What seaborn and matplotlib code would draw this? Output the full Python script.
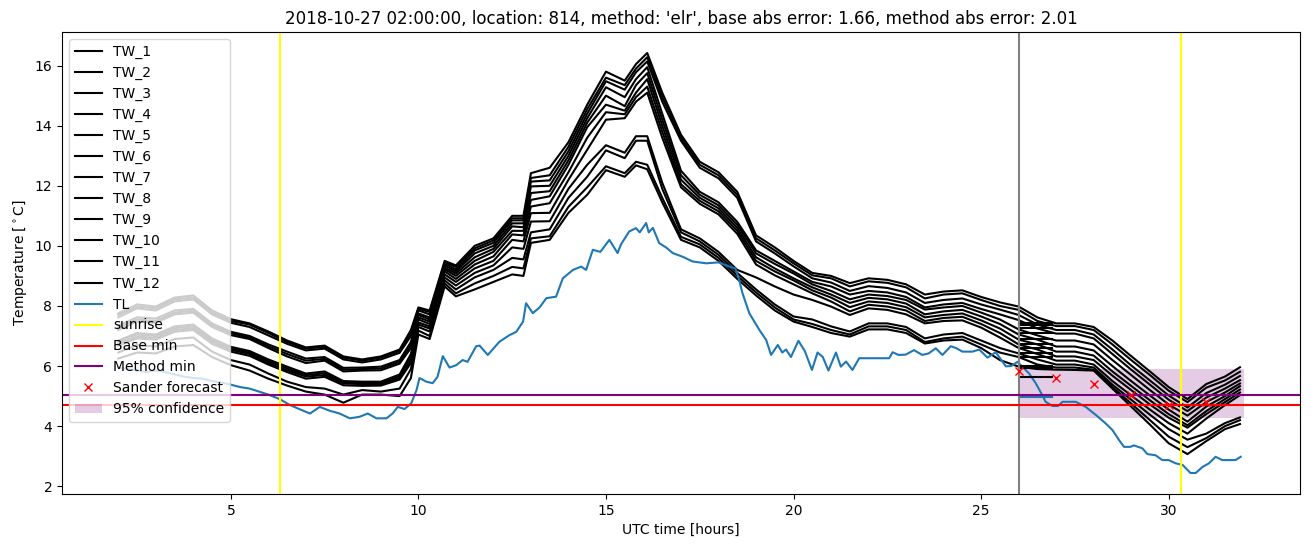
import matplotlib
matplotlib.use("Agg")
import matplotlib.pyplot as plt
import seaborn as sns

title = "2018-10-27 02:00:00, location: 814, method: 'elr', base abs error: 1.66, method abs error: 2.01"

tw_hours = [2.0, 2.5, 3.0, 3.5, 4.0, 4.5, 5.0, 5.5, 6.0, 6.5, 7.0, 7.5, 8.0, 8.5, 9.0, 9.5,
            9.8, 10.0, 10.3, 10.7, 11.0, 11.5, 12.0, 12.5, 12.8, 13.0, 13.5, 14.0, 14.5, 15.0,
            15.5, 15.8, 16.1, 16.5, 17.0, 17.5, 18.0, 18.5, 19.0, 19.5, 20.0, 20.5, 21.0, 21.5,
            22.0, 22.5, 23.0, 23.5, 24.0, 24.5, 25.0, 25.5, 26.0, 26.5, 27.0, 27.5, 28.0, 28.5,
            29.0, 29.5, 30.0, 30.5, 31.0, 31.5, 31.9]

tw_1 = [7.75, 8.05, 7.98, 8.28, 8.35, 7.85, 7.56, 7.42, 7.15, 6.85, 6.62, 6.68, 6.32, 6.22, 6.32, 6.55,
        7.20, 7.95, 7.85, 9.50, 9.35, 10.00, 10.25, 11.00, 11.00, 12.42, 12.60, 13.45, 14.70, 15.80,
        15.50, 16.05, 16.42, 15.10, 13.70, 12.80, 12.45, 11.80, 10.35, 9.95, 9.50, 9.10, 9.00, 8.76,
        8.92, 8.87, 8.72, 8.38, 8.48, 8.52, 8.30, 8.12, 7.98, 7.62, 7.42, 7.42, 7.30, 6.85,
        6.33, 5.82, 5.30, 4.90, 5.40, 5.65, 5.96]
tw_2 = [7.70, 7.98, 7.92, 8.22, 8.28, 7.78, 7.50, 7.38, 7.10, 6.80, 6.58, 6.64, 6.28, 6.18, 6.28, 6.50,
        7.10, 7.90, 7.80, 9.45, 9.30, 9.92, 10.18, 10.92, 10.92, 12.26, 12.35, 13.30, 14.55, 15.60,
        15.35, 15.90, 16.28, 14.95, 13.60, 12.70, 12.35, 11.70, 10.25, 9.85, 9.42, 9.02, 8.92, 8.65,
        8.82, 8.77, 8.62, 8.25, 8.38, 8.42, 8.20, 8.00, 7.87, 7.50, 7.33, 7.33, 7.20, 6.72,
        6.20, 5.70, 5.18, 4.80, 5.28, 5.52, 5.81]
tw_3 = [7.62, 7.92, 7.85, 8.15, 8.22, 7.72, 7.44, 7.30, 7.02, 6.74, 6.52, 6.58, 6.22, 6.12, 6.22, 6.44,
        7.00, 7.85, 7.72, 9.40, 9.22, 9.85, 10.10, 10.85, 10.85, 12.14, 12.18, 13.15, 14.40, 15.48,
        15.20, 15.78, 16.14, 14.80, 13.50, 12.60, 12.25, 11.60, 10.15, 9.75, 9.32, 8.92, 8.78, 8.50,
        8.66, 8.60, 8.45, 8.10, 8.20, 8.25, 8.05, 7.88, 7.70, 7.38, 7.20, 7.20, 7.05, 6.55,
        6.02, 5.52, 5.02, 4.62, 5.10, 5.38, 5.67]
tw_4 = [7.35, 7.62, 7.58, 7.85, 7.90, 7.42, 7.14, 7.00, 6.72, 6.48, 6.25, 6.30, 5.94, 5.95, 5.98, 6.20,
        6.80, 7.75, 7.62, 9.35, 9.15, 9.75, 10.00, 10.75, 10.75, 11.98, 12.00, 13.00, 14.25, 15.28,
        14.95, 15.55, 15.95, 14.40, 12.50, 11.80, 11.45, 10.80, 9.85, 9.50, 9.15, 8.80, 8.65, 8.38,
        8.50, 8.45, 8.30, 7.95, 8.05, 8.10, 7.90, 7.72, 7.53, 7.25, 7.08, 7.08, 6.92, 6.40,
        5.88, 5.38, 4.88, 4.50, 4.95, 5.25, 5.53]
tw_5 = [7.28, 7.55, 7.50, 7.78, 7.84, 7.36, 7.09, 6.95, 6.66, 6.40, 6.18, 6.24, 5.88, 5.90, 5.92, 6.14,
        6.70, 7.70, 7.55, 9.28, 9.08, 9.62, 9.90, 10.65, 10.62, 11.76, 11.82, 12.85, 14.10, 15.00,
        14.65, 15.35, 15.75, 14.20, 12.35, 11.70, 11.35, 10.70, 9.75, 9.40, 9.08, 8.72, 8.50, 8.22,
        8.38, 8.33, 8.20, 7.88, 7.95, 8.00, 7.78, 7.55, 7.22, 7.02, 6.85, 6.85, 6.72, 6.20,
        5.70, 5.20, 4.72, 4.35, 4.80, 5.12, 5.42]
tw_6 = [7.20, 7.48, 7.44, 7.72, 7.78, 7.30, 7.03, 6.90, 6.60, 6.32, 6.10, 6.18, 5.82, 5.85, 5.86, 6.08,
        6.60, 7.62, 7.48, 9.22, 9.00, 9.50, 9.80, 10.50, 10.50, 11.53, 11.65, 12.70, 13.95, 14.70,
        14.50, 15.10, 15.55, 14.00, 12.20, 11.60, 11.25, 10.60, 9.62, 9.25, 8.92, 8.62, 8.38, 8.10,
        8.27, 8.22, 8.08, 7.72, 7.82, 7.87, 7.65, 7.40, 7.05, 6.88, 6.65, 6.65, 6.52, 6.00,
        5.50, 5.02, 4.55, 4.15, 4.65, 5.00, 5.33]
tw_7 = [6.85, 7.10, 7.05, 7.32, 7.38, 6.92, 6.64, 6.50, 6.22, 5.98, 5.75, 5.82, 5.50, 5.48, 5.48, 5.72,
        6.40, 7.55, 7.40, 9.15, 8.90, 9.38, 9.65, 10.38, 10.35, 11.31, 11.42, 12.45, 13.60, 14.45,
        14.38, 14.95, 15.30, 13.80, 12.05, 11.50, 11.15, 10.50, 9.50, 9.15, 8.85, 8.52, 8.28, 7.96,
        8.15, 8.10, 7.96, 7.62, 7.70, 7.75, 7.52, 7.25, 6.88, 6.72, 6.48, 6.48, 6.35, 5.82,
        5.34, 4.86, 4.40, 4.03, 4.50, 4.90, 5.22]
tw_8 = [6.80, 7.05, 7.00, 7.26, 7.32, 6.86, 6.59, 6.45, 6.16, 5.92, 5.70, 5.76, 5.46, 5.44, 5.44, 5.66,
        6.30, 7.45, 7.32, 9.05, 8.80, 9.25, 9.50, 10.20, 10.15, 11.09, 11.10, 12.20, 13.20, 14.20,
        14.25, 14.80, 15.10, 13.60, 11.95, 11.40, 11.05, 10.40, 9.38, 9.02, 8.72, 8.42, 8.15, 7.82,
        8.04, 7.98, 7.85, 7.50, 7.60, 7.64, 7.40, 7.10, 6.72, 6.55, 6.32, 6.32, 6.20, 5.68,
        5.20, 4.72, 4.28, 3.95, 4.40, 4.80, 5.12]
tw_9 = [6.74, 6.98, 6.94, 7.20, 7.26, 6.80, 6.54, 6.40, 6.10, 5.86, 5.65, 5.70, 5.42, 5.40, 5.40, 5.60,
        6.20, 7.38, 7.25, 8.95, 8.68, 9.10, 9.35, 9.95, 9.90, 10.81, 10.82, 11.90, 12.70, 13.35,
        13.10, 13.65, 13.65, 12.10, 10.55, 10.25, 9.80, 9.20, 8.95, 8.65, 8.38, 8.20, 7.98, 7.70,
        7.92, 7.87, 7.72, 7.42, 7.50, 7.52, 7.28, 6.95, 6.60, 6.40, 6.18, 6.18, 6.05, 5.50,
        5.02, 4.55, 4.10, 3.75, 4.25, 4.70, 5.03]
tw_10 = [6.68, 6.92, 6.88, 7.14, 7.20, 6.74, 6.48, 6.34, 6.05, 5.80, 5.58, 5.64, 5.36, 5.34, 5.35, 5.55,
         6.10, 7.30, 7.15, 8.85, 8.55, 8.95, 9.20, 9.60, 9.55, 10.45, 10.55, 11.60, 12.30, 13.18,
         12.92, 13.50, 13.50, 11.90, 10.45, 10.15, 9.70, 9.10, 8.55, 8.05, 7.65, 7.55, 7.32, 7.15,
         7.42, 7.42, 7.30, 6.92, 7.05, 7.10, 6.85, 6.60, 6.42, 6.22, 6.05, 6.05, 5.95, 5.38,
         4.88, 4.38, 3.90, 3.55, 3.75, 4.10, 4.29]
tw_11 = [6.45, 6.70, 6.65, 6.90, 6.95, 6.48, 6.20, 6.05, 5.75, 5.48, 5.30, 5.25, 5.05, 5.20, 5.15, 5.25,
         5.90, 7.18, 7.00, 8.75, 8.42, 8.75, 9.00, 9.30, 9.25, 10.25, 10.32, 11.30, 11.95, 12.65,
         12.42, 12.80, 12.70, 11.60, 10.30, 10.05, 9.60, 9.00, 8.45, 7.95, 7.55, 7.40, 7.20, 7.05,
         7.32, 7.32, 7.20, 6.80, 6.92, 6.98, 6.72, 6.45, 6.30, 6.05, 5.95, 5.95, 5.88, 5.30,
         4.75, 4.20, 3.65, 3.30, 3.60, 4.00, 4.20]
tw_12 = [6.25, 6.45, 6.42, 6.65, 6.70, 6.30, 6.03, 5.85, 5.58, 5.35, 5.15, 5.05, 4.78, 5.05, 5.05, 5.00,
         5.60, 7.05, 6.90, 8.65, 8.32, 8.55, 8.80, 9.05, 9.00, 10.10, 10.20, 11.10, 11.70, 12.52,
         12.30, 12.68, 12.55, 11.45, 10.20, 9.95, 9.50, 8.90, 8.35, 7.85, 7.48, 7.30, 7.10, 6.98,
         7.22, 7.22, 7.10, 6.75, 6.85, 6.88, 6.60, 6.20, 5.98, 5.90, 5.88, 5.87, 5.85, 5.25,
         4.65, 4.05, 3.43, 3.07, 3.50, 3.90, 4.07]

# short duplicated TW pieces just after the forecast time
tw_overlap_hours = [26.0, 26.9]
tw_overlap_values = [7.42, 7.35, 7.28, 7.10, 6.90, 6.75, 6.60, 6.42, 6.30, 6.00, 5.92, 5.65]

tl_hours = [2.0, 2.25, 2.5, 2.75, 3.0, 3.25, 3.5, 3.75, 4.0, 4.25, 4.5, 4.75, 5.0, 5.25, 5.5, 5.75,
            6.0, 6.3, 6.58, 6.84, 7.11, 7.37, 7.64, 7.9, 8.17, 8.43, 8.65, 8.88, 9.15, 9.32, 9.45,
            9.63, 9.81, 9.95, 10.03, 10.21, 10.38, 10.51, 10.65, 10.83, 11.01, 11.18, 11.31, 11.54,
            11.63, 11.85, 12.16, 12.43, 12.61, 12.79, 12.87, 13.05, 13.23, 13.41, 13.67, 13.85,
            14.12, 14.34, 14.47, 14.65, 14.85, 15.09, 15.31, 15.4, 15.62, 15.8, 15.9, 16.07, 16.14,
            16.25, 16.42, 16.6, 16.78, 17.04, 17.31, 17.67, 18.0, 18.29, 18.45, 18.55, 18.64, 18.82,
            19.09, 19.27, 19.4, 19.58, 19.7, 19.8, 19.93, 20.13, 20.3, 20.49, 20.64, 20.78, 20.93,
            21.13, 21.26, 21.4, 21.57, 21.75, 22.55, 22.64, 22.8, 22.99, 23.21, 23.43, 23.6, 23.79,
            23.97, 24.19, 24.33, 24.5, 24.77, 24.95, 25.17, 25.39, 25.66, 25.8, 25.97, 26.28, 26.46,
            26.63, 26.72, 26.9, 27.05, 27.17, 27.52, 27.79, 28.06, 28.32, 28.5, 28.68, 28.81, 28.98,
            29.07, 29.3, 29.43, 29.65, 29.83, 30.0, 30.19, 30.37, 30.58, 30.72, 30.9, 31.07, 31.25,
            31.43, 31.78, 31.92]
tl_values = [5.95, 5.9, 5.85, 5.8, 5.85, 5.8, 5.72, 5.65, 5.6, 5.58, 5.5, 5.45, 5.38, 5.3, 5.25, 5.15,
             5.05, 4.9, 4.7, 4.56, 4.42, 4.64, 4.51, 4.42, 4.26, 4.31, 4.42, 4.26, 4.26, 4.43, 4.64,
             4.57, 4.76, 5.2, 5.6, 5.48, 5.43, 5.64, 6.33, 5.95, 6.03, 6.2, 6.14, 6.66,
             6.68, 6.37, 6.81, 7.03, 7.14, 7.48, 8.09, 7.76, 7.95, 8.26, 8.31, 8.92,
             9.2, 9.31, 9.2, 9.87, 9.8, 10.2, 9.76, 10.05, 10.48, 10.59, 10.45, 10.76, 10.45,
             10.6, 10.09, 9.95, 9.76, 9.64, 9.48, 9.42, 9.45, 9.31, 9.25, 8.87, 8.42, 7.76,
             7.2, 6.87, 6.37, 6.7, 6.45, 6.55, 6.3, 6.84, 6.5, 5.87, 6.45, 6.3, 5.85,
             6.45, 5.98, 6.15, 5.87, 6.26, 6.26, 6.46, 6.37, 6.38, 6.53, 6.37, 6.42, 6.59,
             6.37, 6.66, 6.6, 6.48, 6.48, 6.55, 6.28, 6.46, 5.99, 6.0, 6.14, 5.75, 5.42,
             5.03, 4.81, 4.67, 4.67, 4.81, 4.81, 4.64, 4.37, 4.09, 3.87, 3.53, 3.31, 3.31,
             3.36, 3.26, 3.07, 3.03, 2.87, 2.87, 2.76, 2.71, 2.44, 2.44, 2.64, 2.76, 2.98,
             2.87, 2.87, 2.98]
tl_overlap_hours = [26.0, 26.9]
tl_overlap_values = [4.97, 4.97]

sander_hours = [26, 27, 28, 29, 30, 31]
sander_values = [5.83, 5.59, 5.39, 5.02, 4.69, 4.81]

conf_hours = [26.0, 32.0]
conf_low = [4.26, 4.26]
conf_high = [5.90, 5.90]

sunrise_hours = [6.30, 30.33]
forecast_hour = 26.0
base_min = 4.70
method_min = 5.05

tw_series = [tw_1, tw_2, tw_3, tw_4, tw_5, tw_6, tw_7, tw_8, tw_9, tw_10, tw_11, tw_12]

fig = plt.figure(figsize=(13.11, 5.47), dpi=100)
ax = fig.add_axes([62 / 1311, 1 - 494 / 547, (1300 - 62) / 1311, (494 - 32) / 547])

for i, tw in enumerate(tw_series):
    sns.lineplot(x=tw_hours, y=tw, color="black", label=f"TW_{i + 1}", ax=ax)
sns.lineplot(x=tl_hours, y=tl_values, color="#1f77b4", label="TL", ax=ax)

for v in tw_overlap_values:
    sns.lineplot(x=tw_overlap_hours, y=[v, v], color="black", legend=False, ax=ax)
sns.lineplot(x=tl_overlap_hours, y=tl_overlap_values, color="#1f77b4", legend=False, ax=ax)

ax.axvline(sunrise_hours[0], color="yellow", label="sunrise")
ax.axvline(sunrise_hours[1], color="yellow")
ax.axvline(forecast_hour, color="grey")
ax.axhline(base_min, color="red", label="Base min")
ax.axhline(method_min, color="purple", label="Method min")
ax.plot(sander_hours, sander_values, "x", color="red", label="Sander forecast")
ax.fill_between(conf_hours, conf_low, conf_high, color="purple", alpha=0.2,
                linewidth=0, label="95% confidence")

ax.set_xticks([5, 10, 15, 20, 25, 30])
ax.set_title(title)
ax.set_xlabel("UTC time [hours]")
ax.set_ylabel(r"Temperature [$^\circ$C]")
ax.legend(loc="upper left")

fig.savefig("out.png", dpi=100)
